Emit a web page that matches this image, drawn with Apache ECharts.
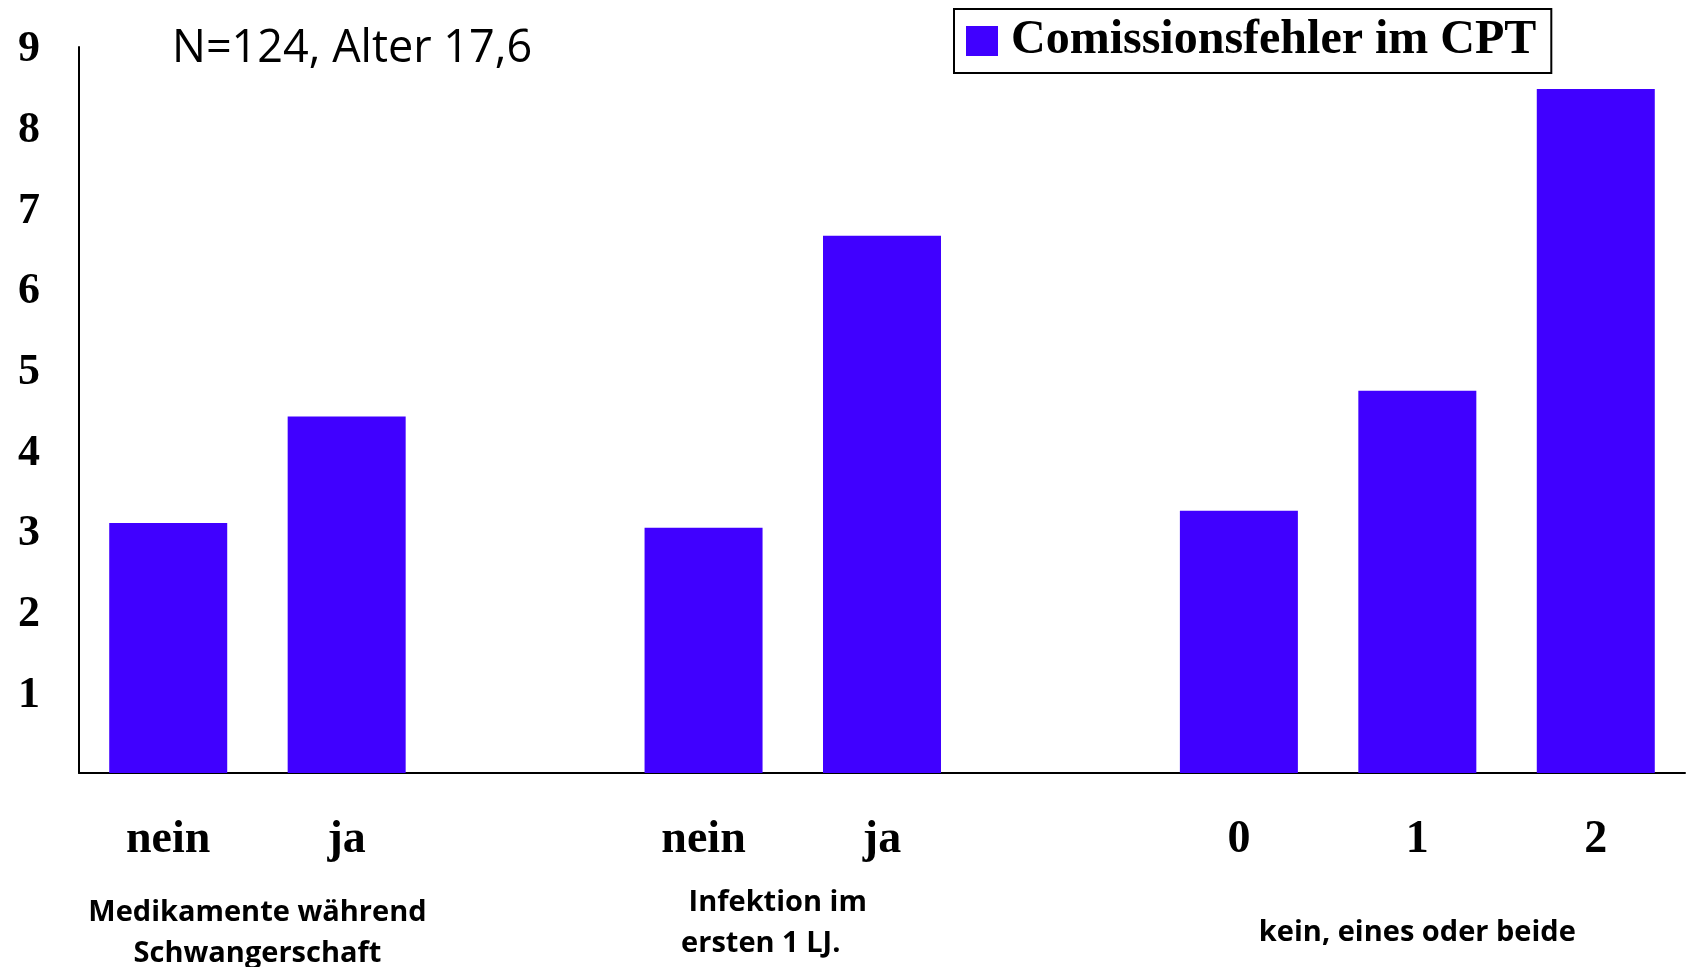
<!DOCTYPE html>
<html>
<head>
<meta charset="utf-8">
<script src="https://cdn.jsdelivr.net/npm/echarts@6/dist/echarts.min.js"></script>
<style>
  html, body { margin: 0; padding: 0; background: #ffffff; }
  #chart { width: 1686px; height: 967px; }
</style>
</head>
<body>
<div id="chart"></div>
<script>
// Mean commission errors in the CPT, split by risk factor
const seriesName = 'Comissionsfehler im CPT';
const sampleNote = 'N=124, Alter 17,6';
const groupNames = [['Medikamente während', 'Schwangerschaft'], ['Infektion im', 'ersten 1 LJ.'], ['kein, eines oder beide']];
const groupCategories = [['nein', 'ja'], ['nein', 'ja'], ['0', '1', '2']];
const groupValues = [[3.10, 4.42], [3.04, 6.66], [3.25, 4.74, 8.48]];
const yTicks = [0, 1, 2, 3, 4, 5, 6, 7, 8, 9];

// Flatten the groups onto one category axis, with an empty slot between groups
const categories = [];
const values = [];
const groupCenters = [];
groupCategories.forEach((cats, g) => {
  if (g > 0) { categories.push(''); values.push(null); }
  const first = categories.length;
  cats.forEach((c, i) => { categories.push(c); values.push(groupValues[g][i]); });
  groupCenters.push(first + cats.length / 2);
});
const slotCount = categories.length;

const barColor = '#4000ff';
const serif = '"Liberation Serif", "Times New Roman", serif';
const sans = '"Open Sans", "Noto Sans", sans-serif';

// Rich styles for the group captions under the axis (one entry per caption line)
const captionStyles = [
  ['plain', 'plain'],
  ['infA', 'infB', 'gap'],
  ['plain']
];
const captionFont = { fontFamily: sans, fontSize: 29, fontWeight: 'bold', color: '#000', lineHeight: 41 };

const chart = echarts.init(document.getElementById('chart'), null, { renderer: 'canvas' });
chart.setOption({
  animation: false,
  backgroundColor: '#ffffff',
  title: {
    text: sampleNote,
    left: 167,
    top: 22,
    textStyle: { fontFamily: sans, fontSize: 45, fontWeight: 'normal', color: '#000' }
  },
  legend: {
    data: [seriesName],
    left: 954,
    top: 9,
    padding: [8, 15, 8, 12],
    borderColor: '#000',
    borderWidth: 2,
    itemWidth: 32,
    itemHeight: 30,
    icon: 'rect',
    textStyle: { fontFamily: serif, fontSize: 48, fontWeight: 'bold', color: '#000', padding: [0, 0, 0, 8] }
  },
  grid: { left: 79, right: 1, top: 47, bottom: 194, containLabel: false, outerBoundsMode: 'none' },
  xAxis: [
    {
      type: 'category',
      data: categories,
      axisLine: { lineStyle: { color: '#000', width: 2 } },
      axisTick: { show: false },
      axisLabel: {
        interval: 0,
        margin: 44,
        fontFamily: serif,
        fontSize: 46,
        fontWeight: 'bold',
        color: '#000'
      }
    },
    {
      type: 'value',
      min: 0,
      max: slotCount,
      position: 'bottom',
      axisLine: { show: false },
      axisTick: { show: false },
      splitLine: { show: false },
      axisLabel: {
        customValues: groupCenters,
        margin: 160,
        verticalAlign: 'middle',
        fontFamily: sans,
        fontSize: 29,
        fontWeight: 'bold',
        color: '#000',
        lineHeight: 41,
        rich: {
          plain: Object.assign({}, captionFont),
          infA: Object.assign({}, captionFont, { padding: [0, 30, 0, 0] }),
          infB: Object.assign({}, captionFont, { padding: [0, 64, 0, 0] }),
          gap: Object.assign({}, captionFont, { lineHeight: 20 })
        },
        formatter: (v) => {
          const idx = groupCenters.findIndex((c) => Math.abs(c - v) < 1e-6);
          if (idx < 0) return '';
          const styles = captionStyles[idx];
          return styles.map((s, i) => '{' + s + '|' + (groupNames[idx][i] || '') + '}').join('\n');
        }
      }
    }
  ],
  yAxis: {
    type: 'value',
    min: yTicks[0],
    max: yTicks[yTicks.length - 1],
    interval: 1,
    axisLine: { show: true, lineStyle: { color: '#000', width: 2 } },
    axisTick: { show: false },
    splitLine: { show: false },
    axisLabel: {
      showMinLabel: false,
      margin: 39,
      verticalAlign: 'top',
      lineHeight: 6,
      fontFamily: serif,
      fontSize: 44,
      fontWeight: 'bold',
      color: '#000'
    }
  },
  series: [
    {
      name: seriesName,
      type: 'bar',
      xAxisIndex: 0,
      data: values,
      barWidth: 118,
      itemStyle: { color: barColor }
    }
  ]
});
</script>
</body>
</html>
